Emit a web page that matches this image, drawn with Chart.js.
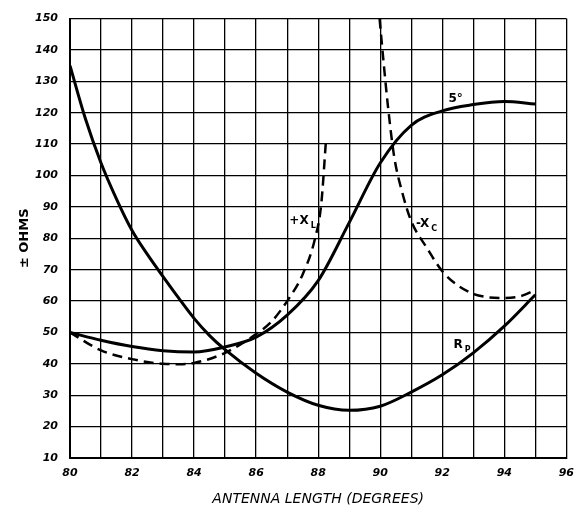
<!DOCTYPE html>
<html>
<head>
<meta charset="utf-8">
<script src="https://cdn.jsdelivr.net/npm/chart.js@4.4.1/dist/chart.umd.min.js"></script>
<style>
  html, body { margin: 0; padding: 0; background: #fff; }
  #wrap { width: 583px; height: 508px; position: relative; }
</style>
</head>
<body>
<div id="wrap"><canvas id="chart"></canvas></div>
<script>
// R_p curve
const rpX = [80, 80.5, 81, 81.5, 82, 82.5, 83, 83.5, 84, 84.5, 85, 86, 87, 88, 89, 90, 91, 92, 93, 94, 95]
const rpY = [135, 118, 104, 92.5, 82.5, 74.8, 67.8, 61, 54.5, 49, 44.5, 37, 31, 26.8, 25.2, 26.5, 31, 36.5, 43.5, 52, 62]

// 5 degree curve
const fiveX = [80, 81, 82, 83, 84, 85, 86, 87, 88, 89, 90, 91, 92, 93, 94, 95]
const fiveY = [50, 47.5, 45.5, 44.2, 43.8, 45.4, 48.5, 55.5, 66.5, 85, 104, 116, 120.6, 122.6, 123.6, 122.8]

// +X_L (dashed)
const xlX = [80, 81, 82, 83, 83.5, 84, 85, 86, 86.5, 87, 87.5, 87.9, 88.1, 88.25]
const xlY = [50, 44.3, 41.5, 40, 39.9, 40.3, 43.5, 49.5, 53.5, 60, 68.5, 80, 91, 111]

// -X_C (dashed)
const xcX = [89.98, 90.1, 90.25, 90.45, 90.7, 91, 91.5, 92, 92.5, 93, 93.5, 94, 94.5, 95]
const xcY = [150, 137, 122, 106, 95, 85.5, 77, 69.5, 65, 62.3, 61.2, 61, 61.5, 63.5]

const xMin = 80, xMax = 96
const yMin = 10, yMax = 150

// curve labels: text, subscript, x, y
const labels = [
  ["5°", "", 92.2, 124.4],
  ["+X", "L", 87.07, 85.6],
  ["-X", "C", 91.15, 84.7],
  ["R", "P", 92.36, 46]
]

function pts(xs, ys) {
  return xs.map((x, i) => ({ x: x, y: ys[i] }))
}

const labelPlugin = {
  id: "curveLabels",
  afterDatasetsDraw(chart) {
    const ctx = chart.ctx
    const xs = chart.scales.x, ys = chart.scales.y
    ctx.save()
    ctx.fillStyle = "#000"
    ctx.textBaseline = "middle"
    ctx.textAlign = "left"
    labels.forEach(l => {
      const px = xs.getPixelForValue(l[2])
      const py = ys.getPixelForValue(l[3])
      ctx.font = "bold 12px 'DejaVu Sans'"
      ctx.fillText(l[0], px, py)
      const w = ctx.measureText(l[0]).width
      if (l[1]) {
        ctx.font = "bold 8px 'DejaVu Sans'"
        ctx.fillText(l[1], px + w + 2, py + 5)
      }
    })
    ctx.restore()
  }
}

const solid = { borderColor: "#000", borderWidth: 3, pointRadius: 0, fill: false, cubicInterpolationMode: "monotone" }
const dashed = { borderColor: "#000", borderWidth: 2.5, borderDash: [10, 6], pointRadius: 0, fill: false, cubicInterpolationMode: "monotone" }

const tickFont = { family: "DejaVu Sans", size: 11, weight: "bold", style: "italic" }

new Chart(document.getElementById("chart").getContext("2d"), {
  type: "line",
  data: {
    datasets: [
      Object.assign({ label: "Rp", data: pts(rpX, rpY) }, solid),
      Object.assign({ label: "5°", data: pts(fiveX, fiveY) }, solid),
      Object.assign({ label: "+XL", data: pts(xlX, xlY) }, dashed),
      Object.assign({ label: "-XC", data: pts(xcX, xcY) }, dashed)
    ]
  },
  options: {
    responsive: true,
    maintainAspectRatio: false,
    animation: false,
    layout: { padding: { top: 15, right: 11, left: 0, bottom: 0 } },
    plugins: { legend: { display: false }, tooltip: { enabled: false } },
    scales: {
      x: {
        type: "linear",
        min: xMin, max: xMax,
        afterFit(scale) { scale.height = 50 },
        grid: { color: "#000", lineWidth: 1.3, drawTicks: false },
        border: { color: "#000", width: 2 },
        ticks: {
          stepSize: 1, autoSkip: false, maxRotation: 0, padding: 9,
          color: "#000", font: tickFont,
          callback: v => (v % 2 === 0 ? String(v) : "")
        },
        title: {
          display: true, text: "ANTENNA LENGTH (DEGREES)", color: "#000",
          font: { family: "DejaVu Sans", size: 14, style: "italic" },
          padding: { top: 0, bottom: 0 }
        }
      },
      y: {
        min: yMin, max: yMax,
        afterFit(scale) { scale.width = 70 },
        grid: { color: "#000", lineWidth: 1.3, drawTicks: false },
        border: { color: "#000", width: 2 },
        ticks: { stepSize: 10, padding: 12, color: "#000", font: tickFont },
        title: {
          display: true, text: "± OHMS", color: "#000",
          font: { family: "DejaVu Sans", size: 13, weight: "bold" },
          padding: { top: 17, bottom: 0 }
        }
      }
    }
  },
  plugins: [labelPlugin]
})
</script>
</body>
</html>
